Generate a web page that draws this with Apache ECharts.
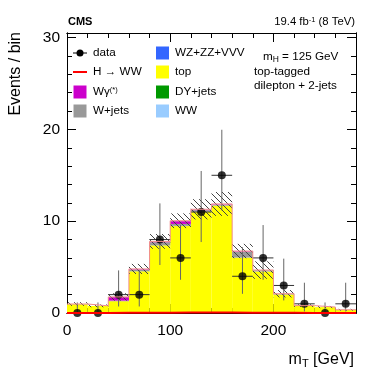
<!DOCTYPE html>
<html>
<head>
<meta charset="utf-8">
<script src="https://cdn.jsdelivr.net/npm/echarts@6/dist/echarts.min.js"></script>
<style>
  html, body { margin: 0; padding: 0; background: #fff; }
  #chart { width: 374px; height: 392px; }
</style>
</head>
<body>
<div id="chart"></div>
<script>
// bin edges of mT [GeV]
var binEdges = [0, 20, 40, 60, 80, 100, 120, 140, 160, 180, 200, 220, 240, 260, 280];
var binCenters = [10, 30, 50, 70, 90, 110, 130, 150, 170, 190, 210, 230, 250, 270];

// backgrounds (stacked, bottom to top)
var ww     = [0, 0, 0, 0.02, 0.03, 0.05, 0.04, 0.03, 0.02, 0.01, 0, 0, 0, 0];
var dyjets = [0, 0, 0, 0.05, 0.02, 0, 0, 0, 0, 0, 0, 0, 0, 0];
var topbkg = [0.95, 0.77, 1.29, 4.48, 7.33, 9.42, 11.01, 11.67, 6.02, 4.52, 2.02, 0.79, 0.64, 0.34];
var vvv    = [0, 0, 0.01, 0.02, 0.03, 0.03, 0.03, 0.03, 0.02, 0.02, 0.01, 0, 0, 0];
var wjets  = [0.02, 0, 0.05, 0.15, 0.3, 0.2, 0.12, 0.05, 0.6, 0.1, 0.05, 0, 0, 0];
var wgamma = [0, 0, 0.38, 0.05, 0.05, 0.3, 0.05, 0.05, 0.05, 0, 0, 0, 0, 0];
var hww    = [0.01, 0.01, 0.02, 0.03, 0.04, 0.05, 0.05, 0.05, 0.04, 0.03, 0.02, 0.01, 0.01, 0.01];
// systematic uncertainty on the stack
var bkgUnc = [0.2, 0.15, 0.4, 0.55, 0.8, 0.8, 1.1, 1.3, 0.78, 0.95, 0.4, 0.15, 0.12, 0.1];

// data with asymmetric errors
var dataVals = [0, 0, 2, 2, 8, 6, 11, 15, 4, 6, 3, 1, 0, 1];
var errLow   = [0, 0, 1.29, 1.29, 2.77, 2.38, 3.27, 3.82, 1.91, 2.38, 1.63, 0.83, 0, 0.83];
var errHigh  = [1.15, 1.15, 2.64, 2.64, 3.94, 3.58, 4.47, 4.96, 3.16, 3.58, 2.92, 2.3, 1.15, 2.3];

var yTicks = [0, 10, 20, 30];
var xTicks = [0, 100, 200];

var FONT = '"Liberation Sans", Arial, Helvetica, sans-serif';

var layers = [
  { name: 'WW', vals: ww, color: '#99ccff' },
  { name: 'DY+jets', vals: dyjets, color: '#009900' },
  { name: 'top', vals: topbkg, color: '#ffff00' },
  { name: 'WZ+ZZ+VVV', vals: vvv, color: '#3366ff' },
  { name: 'W+jets', vals: wjets, color: '#999999' },
  { name: 'Wγ', vals: wgamma, color: '#cc00cc' }
];

// hatch pattern for the uncertainty band
var hatch = document.createElement('canvas');
hatch.width = 6; hatch.height = 6;
var hc = hatch.getContext('2d');
hc.strokeStyle = '#444';
hc.lineWidth = 1;
hc.beginPath();
hc.moveTo(0, 0); hc.lineTo(6, 6);
hc.moveTo(-3, 3); hc.lineTo(3, 9);
hc.moveTo(3, -3); hc.lineTo(9, 3);
hc.stroke();

function rectSeries(name, data, style) {
  return {
    name: name,
    type: 'custom',
    data: data,
    encode: { x: [0, 1], y: [2, 3] },
    silent: true,
    renderItem: function (params, api) {
      var p0 = api.coord([api.value(0), api.value(3)]);
      var p1 = api.coord([api.value(1), api.value(2)]);
      return {
        type: 'rect',
        shape: { x: p0[0], y: p0[1], width: p1[0] - p0[0], height: p1[1] - p0[1] },
        style: style
      };
    }
  };
}

var series = [];
var base = binCenters.map(function () { return 0; });
layers.forEach(function (l) {
  var d = binCenters.map(function (c, i) {
    return [binEdges[i], binEdges[i + 1], base[i], base[i] + l.vals[i]];
  });
  base = base.map(function (b, i) { return b + l.vals[i]; });
  series.push(rectSeries(l.name, d, { fill: l.color }));
});
// signal stacked on top: outline only, as a step line
var stackTop = base.map(function (b, i) { return b + hww[i]; });
series.push({
  name: 'stack outline',
  type: 'line',
  step: 'end',
  symbol: 'none',
  silent: true,
  data: binEdges.map(function (e, i) { return [e, stackTop[Math.min(i, stackTop.length - 1)]]; }),
  lineStyle: { color: '#f08a8a', width: 1 }
});
// uncertainty band
series.push(rectSeries('uncertainty', binCenters.map(function (c, i) {
  return [binEdges[i], binEdges[i + 1], Math.max(0, stackTop[i] - bkgUnc[i]), stackTop[i] + bkgUnc[i]];
}), { fill: { image: hatch, repeat: 'repeat' } }));

// H -> WW unstacked
series.push({
  name: 'H → WW',
  type: 'line',
  step: 'end',
  data: binEdges.map(function (e, i) { return [e, hww[Math.min(i, hww.length - 1)]]; }),
  symbol: 'none',
  lineStyle: { color: '#ff0000', width: 2 },
  silent: true
});

// error bars
series.push({
  name: 'errors',
  type: 'custom',
  data: binCenters.map(function (c, i) { return [c, dataVals[i], errLow[i], errHigh[i]]; }),
  encode: { x: 0, y: 1 },
  clip: false,
  silent: true,
  renderItem: function (params, api) {
    var x = api.value(0), y = api.value(1);
    var pLo = api.coord([x, y - api.value(2)]);
    var pHi = api.coord([x, y + api.value(3)]);
    var children = [{
      type: 'line',
      shape: { x1: pLo[0], y1: pLo[1], x2: pHi[0], y2: pHi[1] },
      style: { stroke: '#666', lineWidth: 1 }
    }];
    if (y > 0) {
      var pl = api.coord([x - 10, y]);
      var pr = api.coord([x + 10, y]);
      children.push({
        type: 'line',
        shape: { x1: pl[0], y1: pl[1], x2: pr[0], y2: pr[1] },
        style: { stroke: '#333', lineWidth: 1 }
      });
    }
    return { type: 'group', children: children };
  }
});
series.push({
  name: 'data',
  type: 'scatter',
  data: binCenters.map(function (c, i) { return [c, dataVals[i]]; }),
  symbol: 'circle',
  symbolSize: 8,
  itemStyle: { color: '#000' },
  clip: false,
  silent: true
});

function xAx(pos, interval, len, labels) {
  return {
    type: 'value', position: pos, min: 0, max: 280, interval: interval,
    axisLine: { show: true, onZero: false, lineStyle: { color: '#000', width: 1 } },
    axisTick: { show: true, inside: true, length: len, lineStyle: { color: '#000' } },
    axisLabel: {
      show: labels, margin: 10, fontSize: 15.5, fontFamily: FONT, color: '#000',
      formatter: function (v) { return xTicks.indexOf(v) >= 0 ? String(v) : ''; }
    },
    splitLine: { show: false }
  };
}
function yAx(pos, interval, len, labels) {
  return {
    type: 'value', position: pos, min: 0, max: 30.5, interval: interval,
    axisLine: { show: true, onZero: false, lineStyle: { color: '#000', width: 1 } },
    axisTick: { show: true, inside: true, length: len, lineStyle: { color: '#000' } },
    axisLabel: {
      show: labels, margin: 7, fontSize: 15.5, fontFamily: FONT, color: '#000',
      formatter: function (v) { return yTicks.indexOf(v) >= 0 ? String(v) : ''; }
    },
    splitLine: { show: false }
  };
}

// legend and labels
var graphics = [];
function txt(x, y, text, opts) {
  opts = opts || {};
  graphics.push({
    type: 'text', x: x, y: y, rotation: opts.rotation || 0, silent: true,
    style: {
      text: text, fontSize: opts.fontSize || 11.7, fontFamily: FONT,
      fontWeight: opts.fontWeight || 'normal', fill: '#000',
      align: opts.align || 'left', verticalAlign: opts.verticalAlign || 'middle',
      rich: {
        sub: { fontSize: 8.5, fontFamily: FONT, verticalAlign: 'bottom', padding: [6, 0, 0, 0] },
        sup: { fontSize: 7.5, fontFamily: FONT, verticalAlign: 'top', padding: [0, 0, 5, 0] },
        subBig: { fontSize: 11, fontFamily: FONT, verticalAlign: 'bottom', padding: [8, 0, 0, 0] }
      }
    }
  });
}
function box(x, y, color) {
  graphics.push({ type: 'rect', silent: true, shape: { x: x, y: y - 6.5, width: 13, height: 13 },
    style: { fill: color } });
}

var rowsY = [53, 72, 92, 111];
// column 1
graphics.push({ type: 'line', silent: true, shape: { x1: 73, y1: rowsY[0], x2: 87, y2: rowsY[0] }, style: { stroke: '#000', lineWidth: 1 } });
graphics.push({ type: 'circle', silent: true, shape: { cx: 80, cy: rowsY[0], r: 3.5 }, style: { fill: '#000' } });
txt(93, rowsY[0], 'data');
graphics.push({ type: 'line', silent: true, shape: { x1: 73, y1: rowsY[1], x2: 87, y2: rowsY[1] }, style: { stroke: '#ff0000', lineWidth: 2 } });
txt(93, rowsY[1], 'H → WW');
box(73.5, rowsY[2], '#cc00cc');
txt(93, rowsY[2], 'Wγ{sup|(*)}');
box(73.5, rowsY[3], '#999999');
txt(93, rowsY[3], 'W+jets');
// column 2
box(156, rowsY[0], '#3366ff');
txt(175, rowsY[0], 'WZ+ZZ+VVV');
box(156, rowsY[1], '#ffff00');
txt(175, rowsY[1], 'top');
box(156, rowsY[2], '#009900');
txt(175, rowsY[2], 'DY+jets');
box(156, rowsY[3], '#99ccff');
txt(175, rowsY[3], 'WW');

// info text
txt(263, 57, 'm{sub|H} = 125 GeV');
txt(254, 72, 'top-tagged');
txt(254, 86, 'dilepton + 2-jets');

// header
txt(68, 22, 'CMS', { fontSize: 11, fontWeight: 'bold' });
txt(355, 22, '19.4 fb{sup|-1} (8 TeV)', { fontSize: 11.3, align: 'right' });

// axis titles
txt(354, 360, 'm{subBig|T} [GeV]', { fontSize: 16, align: 'right' });
txt(16, 32, 'Events / bin', { fontSize: 16, align: 'right', rotation: Math.PI / 2 });

var chart = echarts.init(document.getElementById('chart'), null, { renderer: 'canvas' });
chart.setOption({
  animation: false,
  backgroundColor: '#fff',
  grid: { left: 67, right: 18, top: 33, bottom: 79, containLabel: false },
  xAxis: [
    xAx('bottom', 100, 9, true),
    xAx('bottom', 20, 5, false),
    xAx('top', 100, 9, false),
    xAx('top', 20, 5, false)
  ],
  yAxis: [
    yAx('left', 10, 9, true),
    yAx('left', 2, 5, false),
    yAx('right', 10, 9, false),
    yAx('right', 2, 5, false)
  ],
  series: series,
  graphic: graphics
});
</script>
</body>
</html>
